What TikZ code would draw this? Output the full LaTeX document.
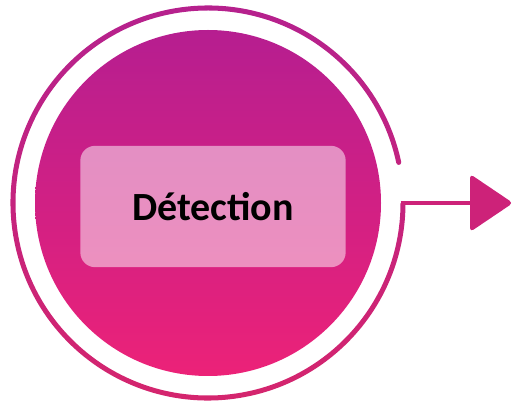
\documentclass[tikz,border=0pt]{standalone}
\usepackage{fontspec}
\setmainfont{Carlito}
\usepackage{xcolor}
\usetikzlibrary{positioning}

\definecolor{disctop}{HTML}{B61E90}
\definecolor{discbot}{HTML}{EC2278}
\definecolor{ringtop}{HTML}{B4218F}
\definecolor{ringbot}{HTML}{D6256C}
\definecolor{arrowpink}{HTML}{CD2279}

\tikzset{
  labelbox/.style={rounded corners=11pt, fill=white, fill opacity=0.5,
    text opacity=1, minimum width=199pt, minimum height=91pt,
    font=\fontsize{30}{36}\selectfont\bfseries},
  outline/.style={line width=3.6pt, draw=arrowpink}
}

\begin{document}
\begin{tikzpicture}[x=0.75pt, y=0.75pt]
  \useasboundingbox (0,0) rectangle (517,403);

  % Centre disc
  \shade[top color=disctop, bottom color=discbot] (208,200) circle (173);

  % Outer ring, open on the right
  \shade[top color=ringtop, bottom color=ringbot]
    (208,200) ++(12:197.5) arc[start angle=12, end angle=360, radius=197.5]
    -- ++(-5,0) arc[start angle=360, end angle=12, radius=192.5] -- cycle;
  \fill[ringtop!55!ringbot] (208,200) ++(12:195) circle (2.5);

  % Label
  \node[labelbox] (label) at (213,196.5) {Détection};

  % Arrow out of the ring
  \coordinate (gap) at (400.5,200);
  \coordinate (tip) at (471,200);
  \draw[outline] (gap) -- (tip);
  \fill[arrowpink, rounded corners=3] (470,229) -- (513,200) -- (470,171) -- cycle;
\end{tikzpicture}
\end{document}
